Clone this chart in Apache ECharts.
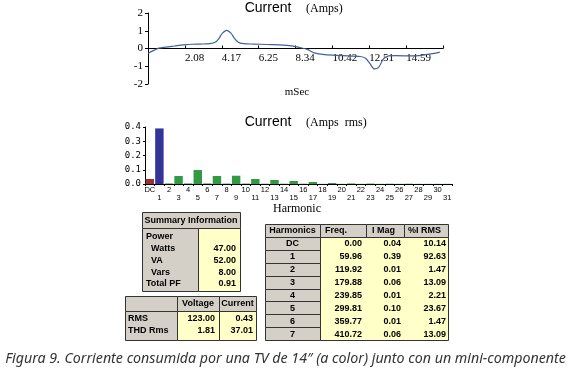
<!DOCTYPE html>
<html lang="es">
<head>
<meta charset="UTF-8">
<title>Figura 9</title>
<style>
    body { margin: 0; background: #fff; }
    #chart { width: 571px; height: 375px; }
</style>
<script src="https://cdn.jsdelivr.net/npm/echarts@6/dist/echarts.min.js"></script>
</head>
<body>
<div id="chart"></div>
<script>
    // waveform (ms, A)
    const waveTime = [0, 0.3, 0.6, 1.0, 1.5, 2.0, 2.5, 3.0, 3.5, 3.8, 4.0, 4.2, 4.45, 4.7, 4.9, 5.1, 5.4, 6.0, 7.0, 8.0, 8.6, 9.0, 9.4, 10.0, 11.0, 12.0, 12.3, 12.55, 12.8, 13.05, 13.3, 13.6, 14.0, 15.0, 16.0, 16.5];
    const waveCurrent = [-0.28, -0.12, 0.02, 0.08, 0.14, 0.2, 0.24, 0.25, 0.28, 0.35, 0.55, 0.85, 1.02, 0.85, 0.55, 0.35, 0.27, 0.25, 0.22, 0.16, 0.05, -0.05, -0.25, -0.35, -0.4, -0.45, -0.55, -0.85, -1.15, -1.05, -0.6, -0.42, -0.4, -0.42, -0.3, -0.2];
    const timeTicks = ['', '2.08', '4.17', '6.25', '8.34', '10.42', '12.51', '14.59', ''];
    const timeStep = 2.085;

    // harmonic spectrum (A rms)
    const harmonicCats = ['DC', '1', '2', '3', '4', '5', '6', '7', '8', '9', '10', '11', '12', '13', '14', '15',
        '16', '17', '18', '19', '20', '21', '22', '23', '24', '25', '26', '27', '28', '29', '30', '31'];
    const harmonicRms = [0.035, 0.39, 0.004, 0.056, 0.004, 0.098, 0.004, 0.056, 0.003, 0.058, 0.003, 0.035, 0.002, 0.028, 0.002, 0.021,
        0.002, 0.014, 0.001, 0.007, 0.001, 0.004, 0.001, 0.003, 0.001, 0.002, 0.001, 0.002, 0.001, 0.001, 0.001, 0.001];

    // tables
    const summaryLabels = ['Power', '  Watts', '  VA', '  Vars', 'Total PF'];
    const summaryValues = ['', '47.00', '52.00', '8.00', '0.91'];
    const rmsLabels = ['RMS', 'THD Rms'];
    const rmsVoltage = ['123.00', '1.81'];
    const rmsCurrent = ['0.43', '37.01'];
    const harmHeaders = ['Harmonics', 'Freq.', 'I Mag', '%I RMS'];
    const harmNames = ['DC', '1', '2', '3', '4', '5', '6', '7'];
    const harmFreq = ['0.00', '59.96', '119.92', '179.88', '239.85', '299.81', '359.77', '410.72'];
    const harmMag = ['0.04', '0.39', '0.01', '0.06', '0.01', '0.10', '0.01', '0.06'];
    const harmPct = ['10.14', '92.63', '1.47', '13.09', '2.21', '23.67', '1.47', '13.09'];

    const captionText = 'Figura 9. Corriente consumida por una TV de 14\u2033 (a color) junto con un mini-componente';

    const SERIF = '"Liberation Serif", "Times New Roman", serif';
    const SANS = '"Liberation Sans", Arial, sans-serif';
    const GRAY = '#d4d0c8';
    const YELLOW = '#ffffc8';
    const EDGE = '#333';

    const graphics = [];

    function box(x, y, w, h, fill) {
        graphics.push({
            type: 'rect', silent: true,
            shape: { x: x + 0.5, y: y + 0.5, width: w, height: h },
            style: { fill: fill, stroke: EDGE, lineWidth: 1 }
        });
    }

    function text(x, y, str, opts) {
        opts = opts || {};
        graphics.push({
            type: 'text', silent: true, x: x, y: y,
            style: {
                text: str,
                fill: opts.color || '#000',
                fontFamily: opts.family || SANS,
                fontSize: opts.size || 9,
                fontWeight: opts.weight || 'bold',
                fontStyle: opts.style || 'normal',
                align: opts.align || 'left',
                verticalAlign: 'middle'
            }
        });
    }

    // titles and axis names
    text(268, 8, 'Current', { size: 14, weight: 'normal', align: 'center' });
    text(306, 9, '(Amps)', { family: SERIF, size: 12, weight: 'normal' });
    text(297, 92, 'mSec', { family: SERIF, size: 11, weight: 'normal', align: 'center' });
    text(268, 122, 'Current', { size: 14, weight: 'normal', align: 'center' });
    text(306, 123, '(Amps  rms)', { family: SERIF, size: 12, weight: 'normal' });
    text(297, 209, 'Harmonic', { family: SERIF, size: 12, weight: 'normal', align: 'center' });

    // summary information
    box(142, 212, 98, 16, GRAY);
    text(191, 220.5, 'Summary Information', { align: 'center' });
    box(142, 228, 56, 63, GRAY);
    box(198, 228, 42, 63, YELLOW);
    summaryLabels.forEach((lab, i) => {
        const y = 237 + i * 11.7;
        text(146, y, lab);
        text(236, y, summaryValues[i], { align: 'right' });
    });

    // voltage / current
    box(125, 296, 52, 15, GRAY);
    box(177, 296, 42, 15, GRAY);
    box(219, 296, 37, 15, GRAY);
    text(198, 304, 'Voltage', { align: 'center' });
    text(237.5, 304, 'Current', { align: 'center' });
    box(125, 311, 52, 29, GRAY);
    box(177, 311, 42, 29, YELLOW);
    box(219, 311, 37, 29, YELLOW);
    rmsLabels.forEach((lab, i) => {
        const y = 319 + i * 12;
        text(128, y, lab);
        text(215, y, rmsVoltage[i], { align: 'right' });
        text(253, y, rmsCurrent[i], { align: 'right' });
    });

    // harmonics table
    const cols = [265, 320, 366, 404, 448];
    const rowH = 12.875;
    for (let c = 0; c < 4; c++) box(cols[c], 224, cols[c + 1] - cols[c], 13, GRAY);
    text((cols[0] + cols[1]) / 2, 231, harmHeaders[0], { align: 'center' });
    text(325, 231, harmHeaders[1]);
    text(372, 231, harmHeaders[2]);
    text(408, 231, harmHeaders[3]);
    box(cols[1], 237, cols[4] - cols[1], rowH * 8, YELLOW);
    harmNames.forEach((name, i) => {
        const top = 237 + i * rowH;
        const y = top + rowH / 2 + 0.5;
        box(cols[0], Math.round(top), cols[1] - cols[0], Math.round(top + rowH) - Math.round(top), GRAY);
        text((cols[0] + cols[1]) / 2, y, name, { align: 'center' });
        text(362, y, harmFreq[i], { align: 'right' });
        text(401, y, harmMag[i], { align: 'right' });
        text(446, y, harmPct[i], { align: 'right' });
    });

    // caption, sized to span the page width
    const ctx = document.createElement('canvas').getContext('2d');
    ctx.font = 'italic 12px "Noto Sans"';
    const captionSize = 12 * 561 / ctx.measureText(captionText).width;
    text(285.5, 359, captionText, { family: '"Noto Sans", sans-serif', size: captionSize, weight: 'normal', style: 'italic', align: 'center', color: '#333' });

    const axisBlack = { show: true, lineStyle: { color: '#000', width: 1 } };

    const option = {
        animation: false,
        grid: [
            { left: 148, top: 13, width: 295, height: 71 },
            { left: 145, top: 127, width: 307, height: 57 }
        ],
        xAxis: [
            {
                // time axis drawn along the zero line
                gridIndex: 0, type: 'value', min: 0, max: timeStep * 8, interval: timeStep,
                offset: -35.5,
                axisLine: { show: true, onZero: false, lineStyle: { color: '#000' } },
                axisTick: { show: true, inside: true, length: 3, lineStyle: { color: '#000' } },
                splitLine: { show: false },
                axisLabel: {
                    formatter: v => timeTicks[Math.round(v / timeStep)] || '',
                    align: 'left', margin: 4, color: '#000', fontFamily: SERIF, fontSize: 11
                }
            },
            {
                gridIndex: 1, type: 'category', data: harmonicCats,
                axisLine: axisBlack,
                axisTick: { show: true, interval: 0, length: 2, lineStyle: { color: '#000' } },
                axisLabel: {
                    interval: 0, margin: 2, lineHeight: 8, color: '#000', fontFamily: SANS, fontSize: 7.5,
                    formatter: (v, i) => (i % 2 ? '\n' + v : v + '\n')
                }
            }
        ],
        yAxis: [
            {
                gridIndex: 0, type: 'value', min: -2, max: 2, interval: 1,
                axisLine: axisBlack,
                axisTick: { show: true, length: 3, lineStyle: { color: '#000' } },
                splitLine: { show: false },
                axisLabel: { margin: 5, color: '#000', fontFamily: SERIF, fontSize: 11 }
            },
            {
                gridIndex: 1, type: 'value', min: 0, max: 0.4, interval: 0.1,
                axisLine: axisBlack,
                axisTick: { show: true, length: 2, lineStyle: { color: '#000' } },
                splitLine: { show: false },
                axisLabel: {
                    margin: 4, color: '#000', fontFamily: '"DejaVu Sans Mono", monospace', fontSize: 9,
                    formatter: v => v.toFixed(1)
                }
            }
        ],
        series: [
            {
                type: 'line', xAxisIndex: 0, yAxisIndex: 0,
                data: waveTime.map((t, i) => [t, waveCurrent[i]]),
                showSymbol: false, smooth: 0.3,
                lineStyle: { color: '#3f639e', width: 1.2 }
            },
            {
                type: 'bar', xAxisIndex: 1, yAxisIndex: 1,
                data: harmonicRms, barCategoryGap: '12%',
                itemStyle: {
                    color: p => (p.dataIndex === 0 ? '#993333' : p.dataIndex === 1 ? '#333399' : '#339944')
                }
            }
        ],
        graphic: graphics
    };

    const chart = echarts.init(document.getElementById('chart'));
    chart.setOption(option);
</script>
</body>
</html>
